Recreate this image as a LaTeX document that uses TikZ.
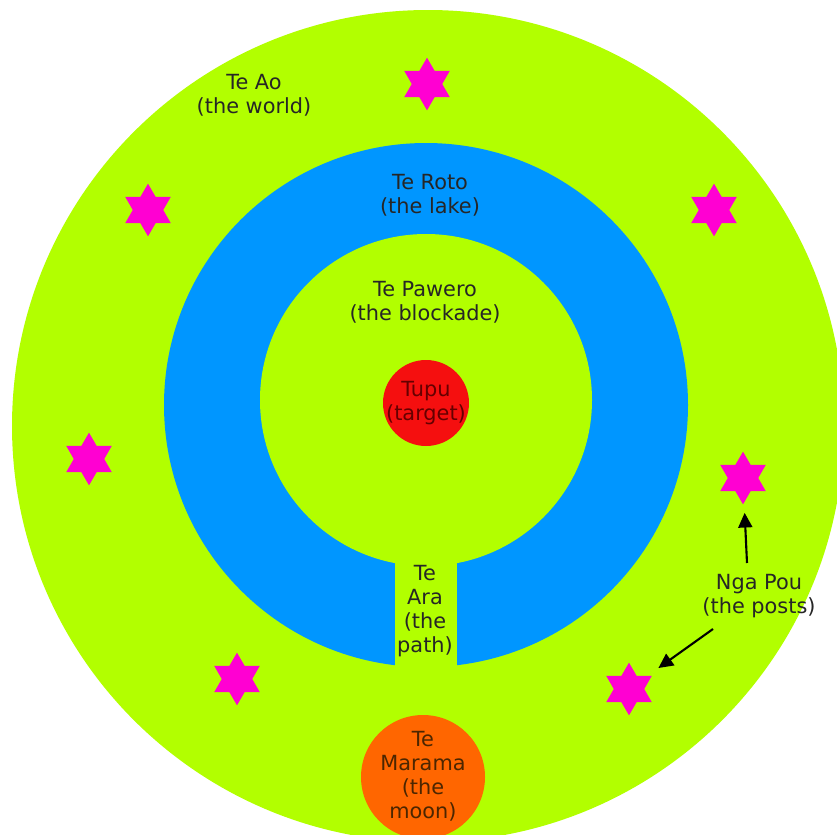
\documentclass[tikz,border=0pt]{standalone}
\usepackage{fontspec}
\setmainfont{DejaVu Sans}
\usetikzlibrary{positioning,shapes.geometric,arrows.meta,calc}

\definecolor{worldgreen}{RGB}{178,255,0}
\definecolor{lakeblue}{RGB}{0,150,255}
\definecolor{targetred}{RGB}{245,15,15}
\definecolor{moonorange}{RGB}{255,102,0}
\definecolor{postpink}{RGB}{255,0,210}

\tikzset{
  post/.style={star, star points=6, star point ratio=1.73, fill=postpink,
    inner sep=0pt, minimum size=1.58cm},
  lbl/.style={align=center, text=black!85, font=\fontsize{17.8}{20.6}\selectfont},
  pointer/.style={-{Triangle[length=4.4mm,width=4.2mm]}, line width=1.8pt}
}

\begin{document}
\begin{tikzpicture}[x=0.03cm,y=-0.03cm]
        \useasboundingbox (0,0) rectangle (837,834);
        \clip (0,0) rectangle (837,834);
        \fill[worldgreen] (428,426) circle (416);
        \fill[lakeblue] (426,405) circle (262);
        \fill[worldgreen] (426,400) circle (166);
        \fill[worldgreen] (395,480) rectangle (457,690);
        \node[circle, fill=targetred, minimum size=2.58cm, inner sep=0pt] (tupu) at (426,403) {};
        \node[circle, fill=moonorange, minimum size=3.72cm, inner sep=0pt] (marama) at (423,777) {};
        % the posts
        \node[post] (post1) at (427,84) {};
        \node[post] (post2) at (148,210) {};
        \node[post] (post3) at (714,210) {};
        \node[post] (post4) at (89,459) {};
        \node[post] (post5) at (743,478) {};
        \node[post] (post6) at (237,679) {};
        \node[post] (post7) at (629,689) {};
        % labels
        \node[lbl] (ao) at (254,95) {Te Ao\\(the world)};
        \node[lbl] (roto) at (430,195) {Te Roto\\(the lake)};
        \node[lbl] (pawero) at (425,302) {Te Pawero\\(the blockade)};
        \node[lbl, text=red!40!black] (tupulbl) at (tupu) {Tupu\\(target)};
        \node[lbl] (ara) at (425,611) {Te\\Ara\\(the\\path)};
        \node[lbl, text=orange!30!black] (maramalbl) at (423,776) {Te\\Marama\\(the\\moon)};
        \node[lbl] (pou) at (759,596) {Nga Pou\\(the posts)};
        \coordinate (pouA) at (747,563);
        \coordinate (pouB) at (713,629);
        \draw[pointer] (pouA) -- ($(post5)!0.41!(pouA)$);
        \draw[pointer] (pouB) -- ($(post7)!0.35!(pouB)$);
    \end{tikzpicture}
\end{document}
